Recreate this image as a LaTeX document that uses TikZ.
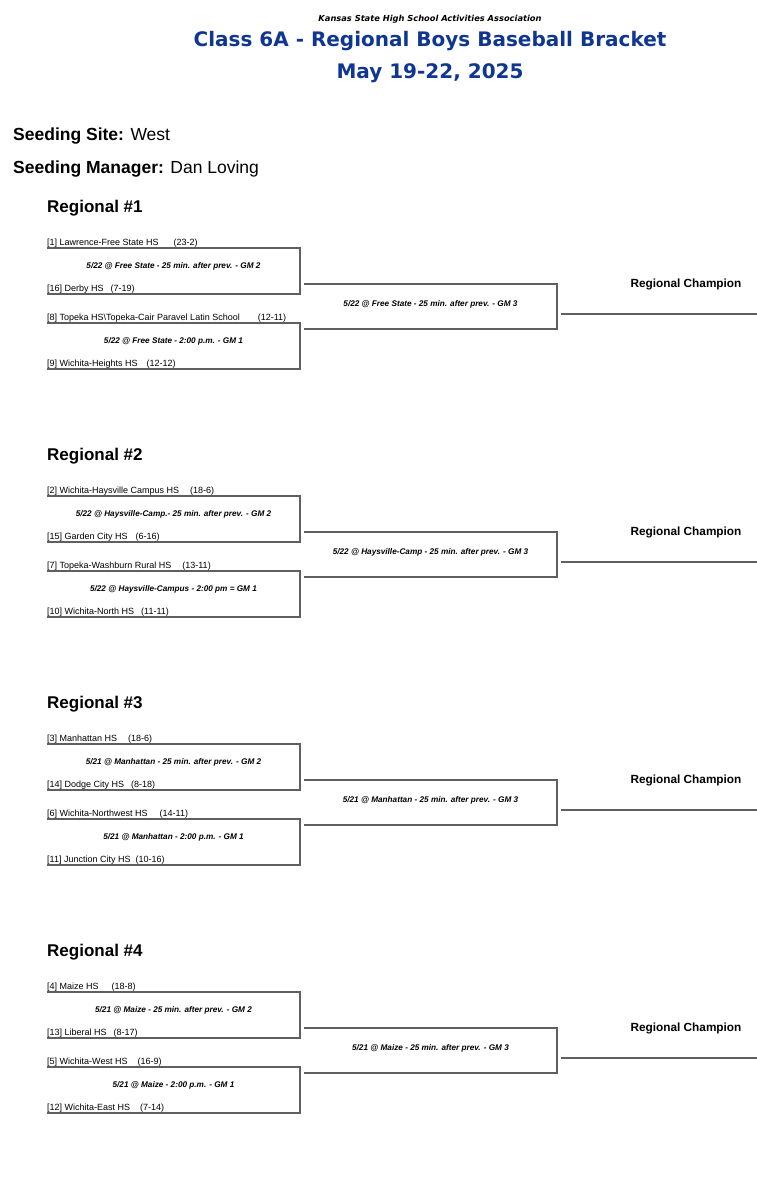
\documentclass[tikz,border=0pt]{standalone}
\usepackage{fontspec}
\setmainfont{Liberation Sans}
\newfontfamily\hdr{DejaVu Sans}
\definecolor{kblue}{RGB}{15,55,145}
\definecolor{lgray}{RGB}{95,95,95}
\newcommand\rec[2]{\hspace{#1pt}#2}
\tikzset{
  bline/.style={draw=lgray, line width=1.3pt},
  team/.style={anchor=base west, inner sep=0pt, font=\fontsize{9}{10}\selectfont},
  game/.style={anchor=base, inner sep=0pt, font=\bfseries\itshape\fontsize{8.2}{9}\selectfont},
  champ/.style={anchor=base, inner sep=0pt, font=\bfseries\fontsize{11.8}{13}\selectfont},
  reghead/.style={anchor=base west, inner sep=0pt, font=\bfseries\fontsize{17}{19}\selectfont},
  seed/.style={anchor=base west, inner sep=0pt, font=\fontsize{17.5}{19}\selectfont},
  ktitle/.style={anchor=base, inner sep=0pt, text=kblue, font=\hdr\bfseries\fontsize{20}{22}\selectfont},
}
\newcommand\Reg[9]{%
  \node[reghead] (#1-title) at (47,212) {Regional \##2};
  \node[team] (#1-t1) at (47,245) {#3};
  \node[team] (#1-t2) at (47,291) {#4};
  \node[team] (#1-t3) at (47,320) {#5};
  \node[team] (#1-t4) at (47,366) {#6};
  \node[game] (#1-g2) at (173.5,268) {#7};
  \node[game] (#1-g1) at (173.5,343) {#8};
  \node[game] (#1-g3) at (430.5,306) {#9};
  \node[champ] (#1-ch) at (686,287) {Regional Champion};
  \coordinate (#1-atl) at (47,248); \coordinate (#1-atr) at (300,248);
  \coordinate (#1-abr) at (300,294); \coordinate (#1-abl) at (47,294);
  \coordinate (#1-btl) at (47,323); \coordinate (#1-btr) at (300,323);
  \coordinate (#1-bbr) at (300,369); \coordinate (#1-bbl) at (47,369);
  \coordinate (#1-ctl) at (304,284); \coordinate (#1-ctr) at (557,284);
  \coordinate (#1-cbr) at (557,329); \coordinate (#1-cbl) at (304,329);
  \coordinate (#1-w1) at (561,314); \coordinate (#1-w2) at (757,314);
  \draw[bline] (#1-atl) -- (#1-atr) -- (#1-abr) -- (#1-abl);
  \draw[bline] (#1-btl) -- (#1-btr) -- (#1-bbr) -- (#1-bbl);
  \draw[bline] (#1-ctl) -- (#1-ctr) -- (#1-cbr) -- (#1-cbl);
  \draw[bline] (#1-w1) -- (#1-w2);
}
\begin{document}
\begin{tikzpicture}[x=1pt,y=-1pt]
\fill[white] (0,0) rectangle (757,1200);
\path[use as bounding box] (0,0) rectangle (757,1200);

\node[anchor=base, inner sep=0pt, font=\hdr\bfseries\itshape\fontsize{8.3}{9}\selectfont] (ksh) at (430,21.5) {Kansas State High School Activities Association};
\node[ktitle] (title) at (430,46.5) {Class 6A - Regional Boys Baseball Bracket};
\node[ktitle] (date) at (430,78) {May 19-22, 2025};

\node[seed] (site) at (13,140) {\textbf{Seeding Site:} West};
\node[seed] (mgr) at (13,173) {\textbf{Seeding Manager:} Dan Loving};

\begin{scope}[yshift=0pt]
\Reg{r1}{1}
 {[1] Lawrence-Free State HS\rec{15}{(23-2)}}
 {[16] Derby HS\rec{7}{(7-19)}}
 {[8] Topeka HS\textbackslash Topeka-Cair Paravel Latin School\rec{18}{(12-11)}}
 {[9] Wichita-Heights HS\rec{9}{(12-12)}}
 {5/22 @ Free State - 25 min. after prev. - GM 2}
 {5/22 @ Free State - 2:00 p.m. - GM 1}
 {5/22 @ Free State - 25 min. after prev. - GM 3}
\end{scope}

\begin{scope}[yshift=-248pt]
\Reg{r2}{2}
 {[2] Wichita-Haysville Campus HS\rec{11}{(18-6)}}
 {[15] Garden City HS\rec{8}{(6-16)}}
 {[7] Topeka-Washburn Rural HS\rec{11}{(13-11)}}
 {[10] Wichita-North HS\rec{7}{(11-11)}}
 {5/22 @ Haysville-Camp.- 25 min. after prev. - GM 2}
 {5/22 @ Haysville-Campus - 2:00 pm = GM 1}
 {5/22 @ Haysville-Camp - 25 min. after prev. - GM 3}
\end{scope}

\begin{scope}[yshift=-496pt]
\Reg{r3}{3}
 {[3] Manhattan HS\rec{11}{(18-6)}}
 {[14] Dodge City HS\rec{7}{(8-18)}}
 {[6] Wichita-Northwest HS\rec{12}{(14-11)}}
 {[11] Junction City HS\rec{5}{(10-16)}}
 {5/21 @ Manhattan - 25 min. after prev. - GM 2}
 {5/21 @ Manhattan - 2:00 p.m. - GM 1}
 {5/21 @ Manhattan - 25 min. after prev. - GM 3}
\end{scope}

\begin{scope}[yshift=-744pt]
\Reg{r4}{4}
 {[4] Maize HS\rec{13}{(18-8)}}
 {[13] Liberal HS\rec{7}{(8-17)}}
 {[5] Wichita-West HS\rec{10}{(16-9)}}
 {[12] Wichita-East HS\rec{10}{(7-14)}}
 {5/21 @ Maize - 25 min. after prev. - GM 2}
 {5/21 @ Maize - 2:00 p.m. - GM 1}
 {5/21 @ Maize - 25 min. after prev. - GM 3}
\end{scope}
\end{tikzpicture}
\end{document}
